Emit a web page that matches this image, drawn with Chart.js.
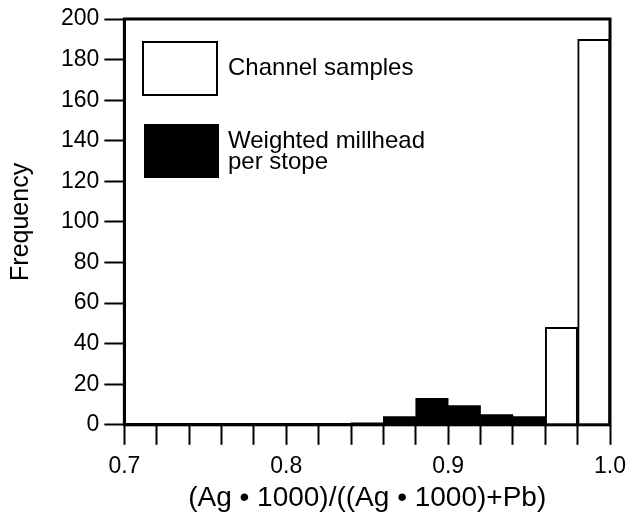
<!DOCTYPE html>
<html>
<head>
<meta charset="utf-8">
<script src="https://cdn.jsdelivr.net/npm/chart.js@4"></script>
<style>
  html, body { margin: 0; padding: 0; background: #fff; }
  #wrap { width: 634px; height: 515px; }
</style>
</head>
<body>
<div id="wrap"><canvas id="myChart"></canvas></div>
<script>
// bin starts (width 0.02)
const binStarts = [0.70, 0.72, 0.74, 0.76, 0.78, 0.80, 0.82, 0.84, 0.86, 0.88, 0.90, 0.92, 0.94, 0.96, 0.98];
const channelSamples = [0, 0, 0, 0, 0, 0, 0, 0, 0, 0, 0, 0, 0, 48, 190];
const weightedMillhead = [0, 0, 0, 0, 0, 0, 0.5, 1, 4, 13, 9.5, 5, 4, 0, 0];
const seriesNames = ['Channel samples', 'Weighted millhead per stope'];
const legendLines = [['Channel samples'], ['Weighted millhead', 'per stope']];
const binWidth = 0.02;

const FONT = "'Liberation Sans', Arial, Helvetica, sans-serif";

function toPoints(vals) {
    return binStarts.map((b, i) => ({ x: b + binWidth / 2, y: vals[i] }));
}

// frame + boxed legend drawn on the canvas
const framePlugin = {
    id: 'frame',
    afterDatasetsDraw(chart) {
        const { ctx, chartArea: a } = chart;
        ctx.save();
        ctx.strokeStyle = '#000';
        ctx.lineWidth = 3;
        ctx.strokeRect(a.left, a.top, a.right - a.left, a.bottom - a.top);

        // legend
        const boxes = [
            { x: 143, y: 42, w: 74, h: 53, base: [75] },
            { x: 145, y: 125, w: 73, h: 52, base: [148, 169] }
        ];
        chart.data.datasets.forEach((ds, i) => {
            const b = boxes[i];
            ctx.fillStyle = ds.backgroundColor;
            ctx.fillRect(b.x, b.y, b.w, b.h);
            ctx.lineWidth = 2;
            ctx.strokeStyle = '#000';
            ctx.strokeRect(b.x, b.y, b.w, b.h);
            ctx.fillStyle = '#000';
            ctx.font = '24px ' + FONT;
            ctx.textBaseline = 'alphabetic';
            legendLines[i].forEach((t, k) => ctx.fillText(t, 228, b.base[k]));
        });
        ctx.restore();
    }
};

const ctx = document.getElementById('myChart');
new Chart(ctx, {
    type: 'bar',
    data: {
        datasets: [{
            label: seriesNames[0],
            data: toPoints(channelSamples),
            backgroundColor: '#ffffff',
            borderColor: '#000000',
            borderWidth: 2,
            barPercentage: 1,
            categoryPercentage: 1
        }, {
            label: seriesNames[1],
            data: toPoints(weightedMillhead),
            backgroundColor: '#000000',
            borderColor: '#000000',
            borderWidth: 0,
            barPercentage: 1,
            categoryPercentage: 1
        }]
    },
    options: {
        responsive: true,
        maintainAspectRatio: false,
        animation: false,
        grouped: false,
        layout: {
            padding: { top: 19, right: 22, left: 2, bottom: 0 }
        },
        scales: {
            x: {
                type: 'linear',
                min: 0.7,
                max: 1.0,
                offset: false,
                grid: {
                    offset: false,
                    drawOnChartArea: false,
                    drawTicks: true,
                    tickLength: 20,
                    tickWidth: 2,
                    tickColor: '#000'
                },
                border: { color: '#000', width: 3 },
                ticks: {
                    stepSize: 0.02,
                    autoSkip: false,
                    maxRotation: 0,
                    color: '#000',
                    padding: 8,
                    font: { size: 23, family: FONT },
                    callback: function (v) {
                        const t = v * 10;
                        return Math.abs(t - Math.round(t)) < 1e-6 ? v.toFixed(1) : '';
                    }
                },
                title: {
                    display: true,
                    text: '(Ag \u2022 1000)/((Ag \u2022 1000)+Pb)',
                    color: '#000',
                    font: { size: 28, family: FONT },
                    padding: { top: -7, bottom: 0 }
                }
            },
            y: {
                min: 0,
                max: 200,
                grid: {
                    drawOnChartArea: false,
                    drawTicks: true,
                    tickLength: 20,
                    tickWidth: 2,
                    tickColor: '#000'
                },
                border: { color: '#000', width: 3 },
                ticks: {
                    stepSize: 20,
                    color: '#000',
                    padding: 5,
                    font: { size: 23, family: FONT }
                },
                title: {
                    display: true,
                    text: 'Frequency',
                    color: '#000',
                    font: { size: 25, family: FONT },
                    padding: { top: 4, bottom: 20 }
                }
            }
        },
        plugins: {
            legend: { display: false },
            tooltip: { enabled: false }
        }
    },
    plugins: [framePlugin]
});
</script>
</body>
</html>
